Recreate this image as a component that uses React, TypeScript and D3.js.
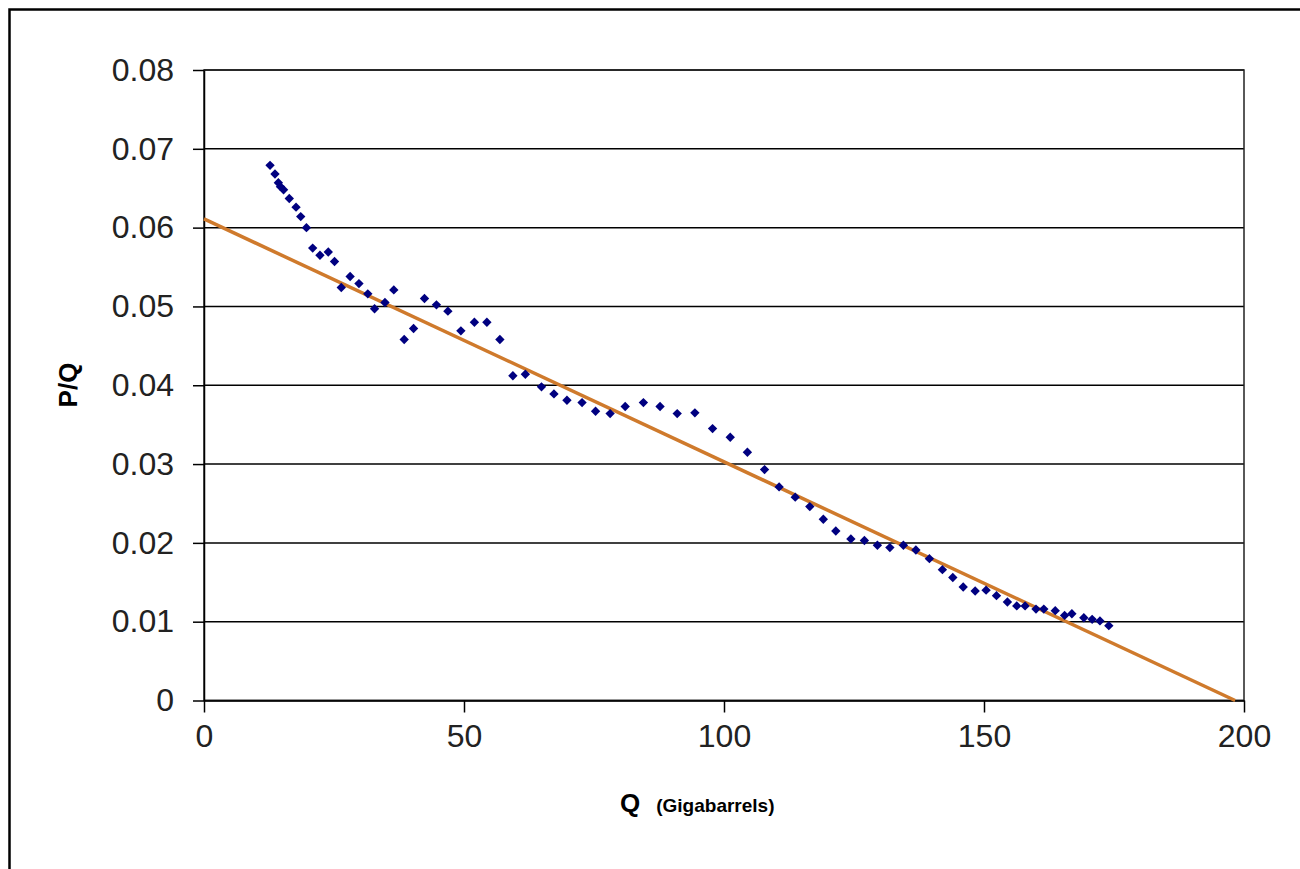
import React, { useRef, useEffect } from 'react';
import * as d3 from 'd3';

// Q (Gigabarrels) and P/Q
const qValues = [
  12.7, 13.65, 14.3, 14.7, 15.3, 16.4, 17.7, 18.6, 19.7, 20.9, 22.3, 23.9, 25.1, 26.4, 28.1,
  29.8, 31.5, 32.8, 34.8, 36.5, 38.5, 40.3, 42.4, 44.7, 46.9, 49.4, 52.0, 54.4, 56.9, 59.4,
  61.8, 64.9, 67.3, 69.8, 72.7, 75.3, 78.1, 81.0, 84.5, 87.7, 91.0, 94.4, 97.8, 101.2, 104.5,
  107.8, 110.6, 113.7, 116.5, 119.1, 121.5, 124.4, 127.0, 129.5, 131.9, 134.5, 136.9, 139.5,
  142.0, 144.0, 146.0, 148.3, 150.4, 152.4, 154.5, 156.3, 157.9, 160.0, 161.5, 163.7, 165.5,
  166.9, 169.2, 170.8, 172.3, 174.0,
];
const pqValues = [
  0.0679, 0.0668, 0.0657, 0.0652, 0.0648, 0.0637, 0.0626, 0.0614, 0.06, 0.0574, 0.0565, 0.0569,
  0.0557, 0.0524, 0.0538, 0.0529, 0.0516, 0.0497, 0.0505, 0.0521, 0.0458, 0.0472, 0.051, 0.0502,
  0.0494, 0.0469, 0.048, 0.048, 0.0458, 0.0412, 0.0414, 0.0398, 0.0389, 0.0381, 0.0378, 0.0367,
  0.0364, 0.0373, 0.0378, 0.0373, 0.0364, 0.0365, 0.0345, 0.0334, 0.0315, 0.0293, 0.0271,
  0.0258, 0.0246, 0.023, 0.0215, 0.0205, 0.0203, 0.0197, 0.0194, 0.0197, 0.0191, 0.018, 0.0166,
  0.0156, 0.0144, 0.0139, 0.014, 0.0133, 0.0125, 0.012, 0.012, 0.0116, 0.0116, 0.0114, 0.0108,
  0.011, 0.0105, 0.0103, 0.0101, 0.0095,
];

// linear trend end points
const trendQ = [0, 198.3];
const trendPQ = [0.0611, 0];

const xTicks = [0, 50, 100, 150, 200];
const yTicks = [0, 0.01, 0.02, 0.03, 0.04, 0.05, 0.06, 0.07, 0.08];

const App = () => {
  const svgRef = useRef<SVGSVGElement>(null);

  useEffect(() => {
    const width = 1300;
    const height = 869;
    const margin = { top: 70, right: 56, bottom: 168.5, left: 204 };
    const font = 'Liberation Sans, Arial, sans-serif';

    const root = d3.select(svgRef.current);
    root.selectAll('*').remove();

    root
      .append('rect')
      .attr('width', width)
      .attr('height', height)
      .attr('fill', '#fff');

    // outer frame (right/bottom run off the picture)
    root
      .append('rect')
      .attr('x', 9.5)
      .attr('y', 9.5)
      .attr('width', width + 20)
      .attr('height', height + 20)
      .attr('fill', 'none')
      .attr('stroke', '#000')
      .attr('stroke-width', 2.5);

    const x = d3.scaleLinear().domain([0, 200]).range([margin.left, width - margin.right]);
    const y = d3.scaleLinear().domain([0, 0.08]).range([height - margin.bottom, margin.top]);

    // gridlines
    root
      .append('g')
      .selectAll('line')
      .data(yTicks)
      .join('line')
      .attr('x1', x(0))
      .attr('x2', x(200))
      .attr('y1', (d) => y(d))
      .attr('y2', (d) => y(d))
      .attr('stroke', '#000')
      .attr('stroke-width', 1.5);

    // plot border
    root
      .append('rect')
      .attr('x', x(0))
      .attr('y', y(0.08))
      .attr('width', x(200) - x(0))
      .attr('height', y(0) - y(0.08))
      .attr('fill', 'none')
      .attr('stroke', '#222')
      .attr('stroke-width', 1.5);

    const xAxis = root
      .append('g')
      .attr('transform', `translate(0,${y(0)})`)
      .call(d3.axisBottom(x).tickValues(xTicks).tickSize(12).tickSizeOuter(0).tickPadding(12).tickFormat(d3.format('d')));
    const yAxis = root
      .append('g')
      .attr('transform', `translate(${x(0)},0)`)
      .call(
        d3
          .axisLeft(y)
          .tickValues(yTicks)
          .tickSize(11)
          .tickSizeOuter(0)
          .tickPadding(19)
          .tickFormat((d) => (d === 0 ? '0' : d3.format('.2f')(d as number))),
      );

    [xAxis, yAxis].forEach((g) => {
      g.select('.domain').attr('stroke', '#000').attr('stroke-width', 1.5);
      g.selectAll('.tick line').attr('stroke', '#000').attr('stroke-width', 1.5);
      g.selectAll('.tick text')
        .attr('fill', '#222')
        .attr('font-family', font)
        .attr('font-size', 32);
    });
    xAxis.selectAll('.tick text').attr('dy', '0.71em');

    // trend line
    const trend = trendQ.map((q, i) => [q, trendPQ[i]] as [number, number]);
    root
      .append('path')
      .datum(trend)
      .attr('fill', 'none')
      .attr('stroke', '#CF7A2C')
      .attr('stroke-width', 3.5)
      .attr(
        'd',
        d3
          .line<[number, number]>()
          .x((d) => x(d[0]))
          .y((d) => y(d[1])),
      );

    // data points
    const diamond = d3.symbol().type(d3.symbolDiamond2).size(56);
    root
      .append('g')
      .selectAll('path')
      .data(qValues.map((q, i) => ({ q, pq: pqValues[i] })))
      .join('path')
      .attr('transform', (d) => `translate(${x(d.q)},${y(d.pq)})`)
      .attr('d', diamond)
      .attr('fill', '#000080');

    // axis titles
    root
      .append('text')
      .attr('transform', `translate(77,385) rotate(-90)`)
      .attr('text-anchor', 'middle')
      .attr('font-family', font)
      .attr('font-weight', 'bold')
      .attr('font-size', 26)
      .text('P/Q');

    const xt = root
      .append('text')
      .attr('x', 620)
      .attr('y', 812)
      .attr('font-family', font)
      .attr('font-weight', 'bold');
    xt.append('tspan').attr('font-size', 26).text('Q');
    xt.append('tspan').attr('font-size', 19).attr('dx', 16).text('(Gigabarrels)');
  }, []);

  return (
    <svg
      ref={svgRef}
      width={1300}
      height={869}
      style={{ position: 'absolute', left: 0, top: 0, display: 'block' }}
    />
  );
};

export default App;
